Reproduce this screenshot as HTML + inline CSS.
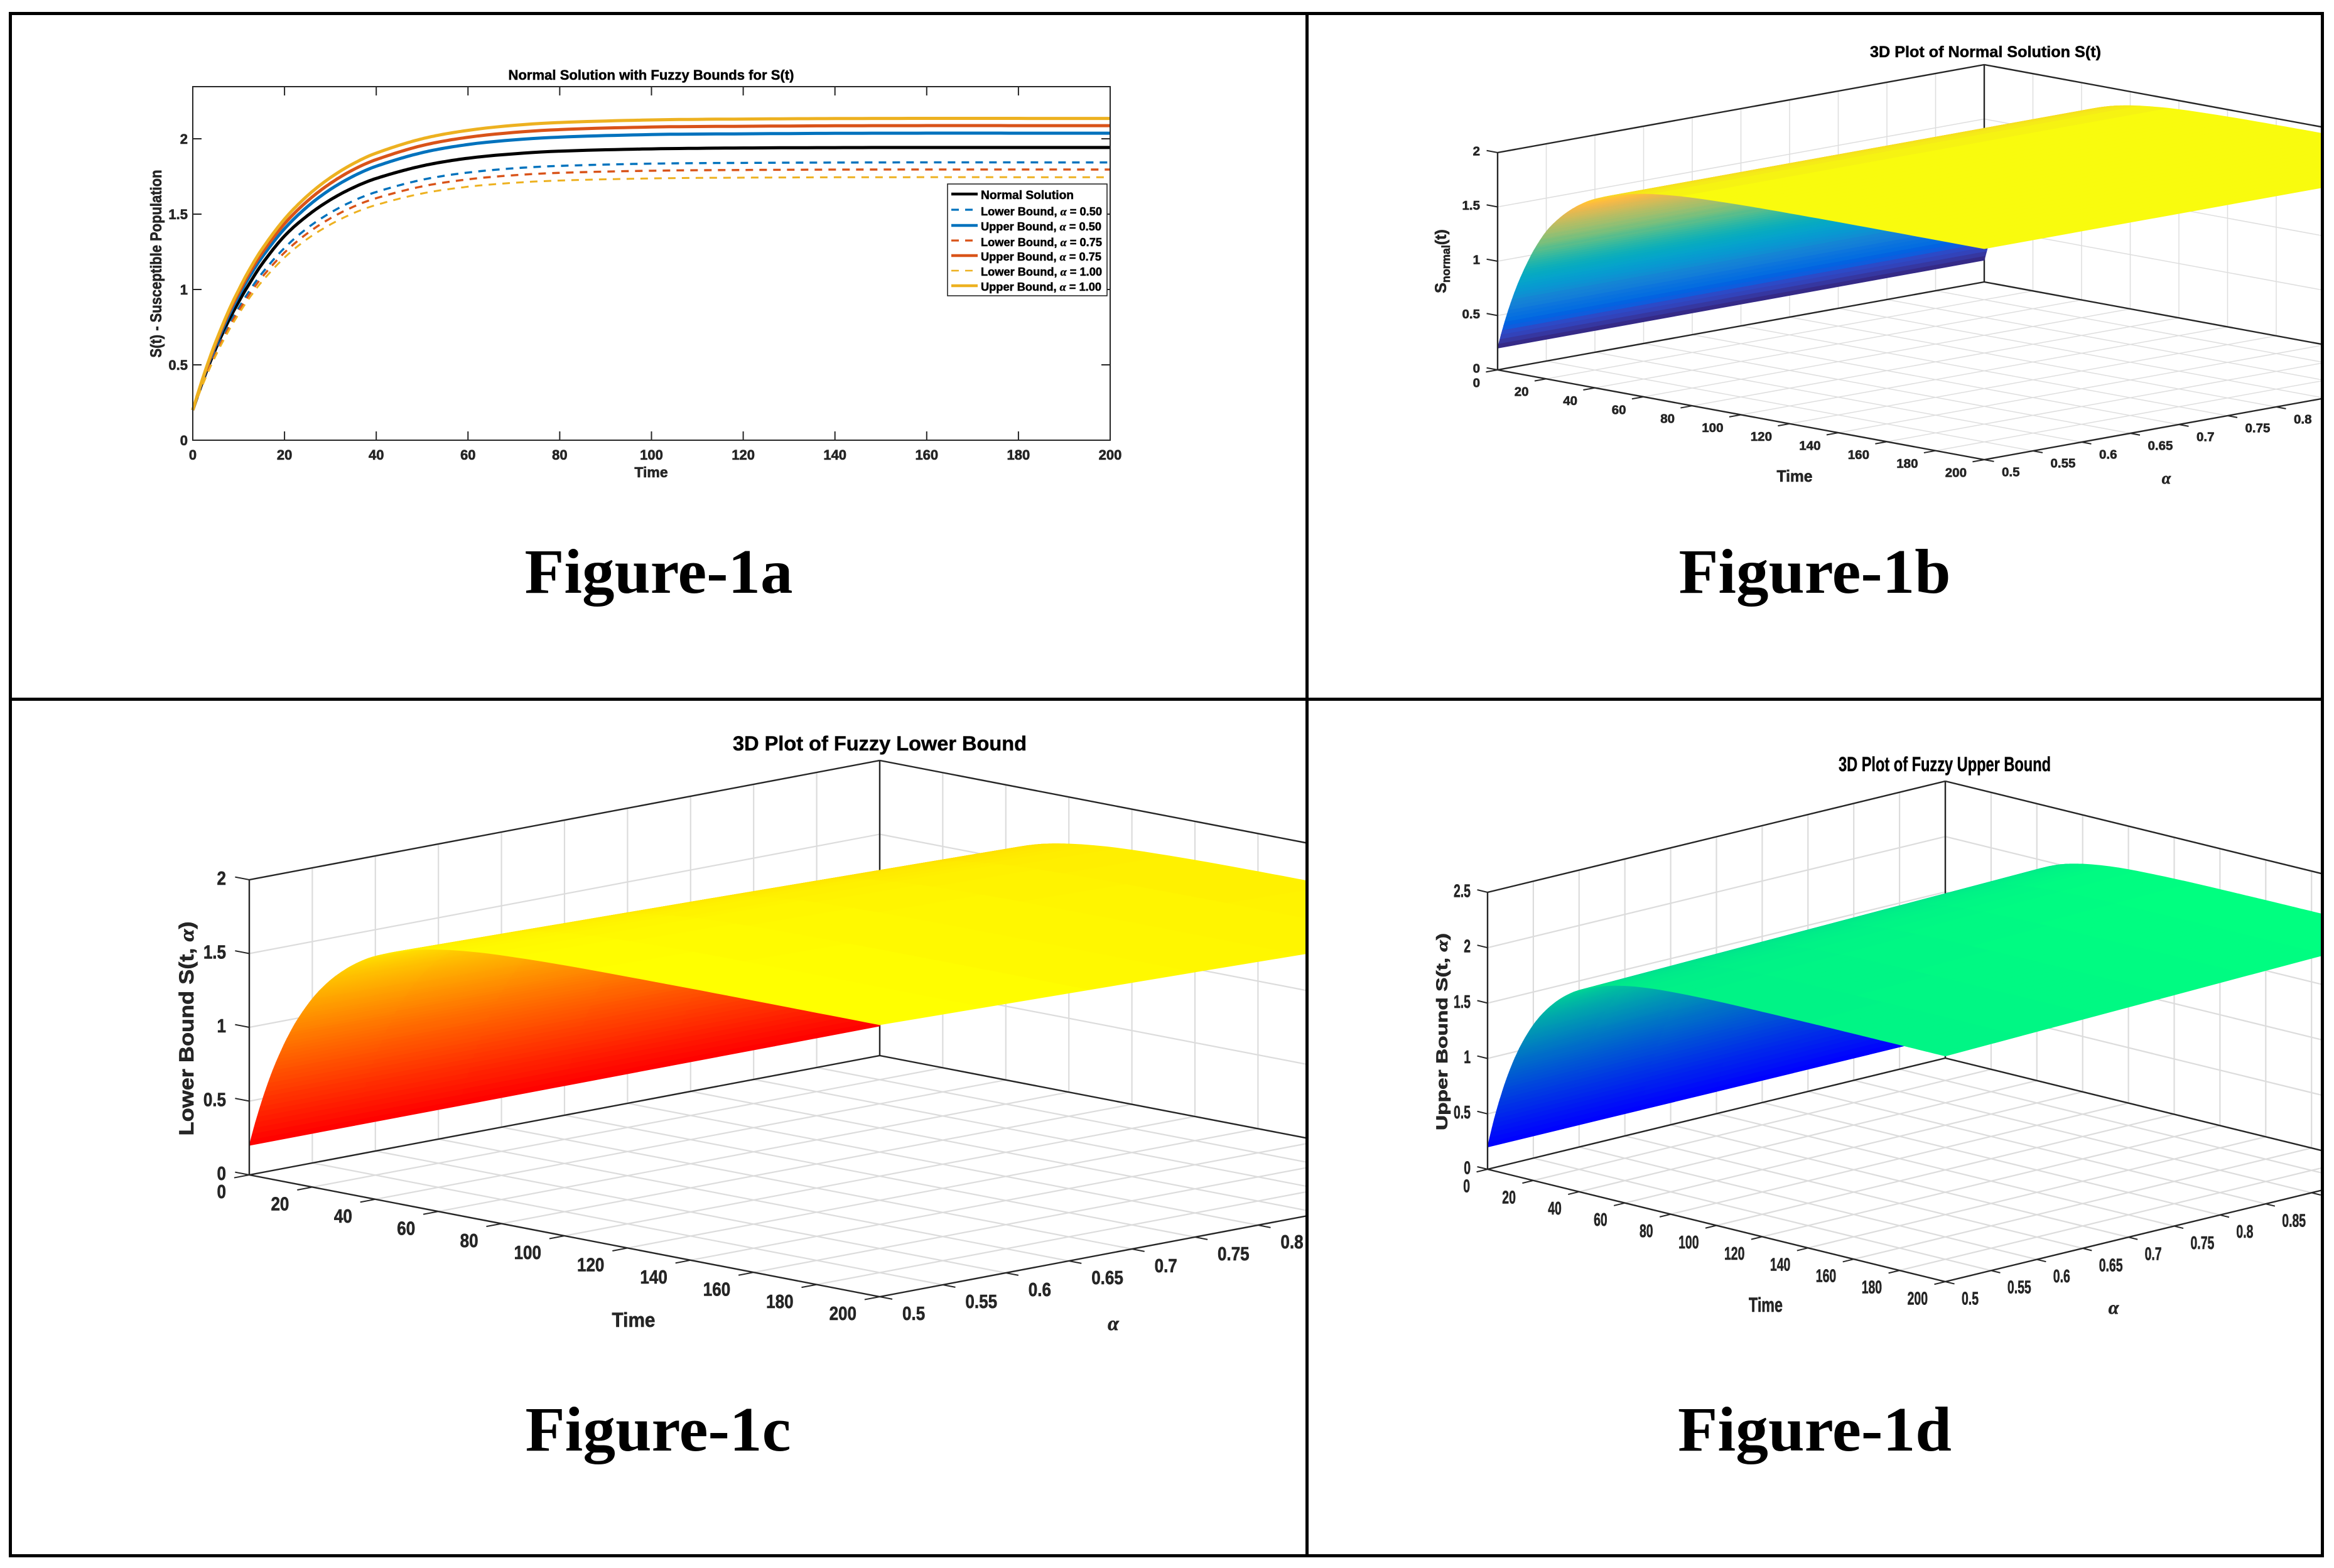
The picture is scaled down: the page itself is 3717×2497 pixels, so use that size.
<!DOCTYPE html>
<html lang="en">
<head>
<meta charset="utf-8">
<title>Figure 1: Normal Solution with Fuzzy Bounds</title>
<style>
html,body{margin:0;padding:0;background:#fff;}
body{width:3717px;height:2497px;overflow:hidden;}
svg{display:block;position:absolute;left:0;top:0;}
text{font-family:"Liberation Sans",sans-serif;font-weight:bold;stroke:#1a1a1a;stroke-width:0.6px;}
.greek{font-family:"Liberation Serif",serif;font-style:italic;}
.cap{font-family:"Liberation Serif",serif;font-weight:bold;fill:#000;stroke:none;}
</style>
</head>
<body>
<svg id="root" xmlns="http://www.w3.org/2000/svg" width="3717" height="2497" viewBox="0 0 3717 2497">
  <defs>
    <clipPath id="clip-b"><rect x="2084" y="24" width="1612" height="1087"/></clipPath>
    <clipPath id="clip-c"><rect x="19" y="1116" width="2060" height="1359"/></clipPath>
    <clipPath id="clip-d"><rect x="2084" y="1116" width="1612" height="1359"/></clipPath>
  </defs>
  <rect x="0" y="0" width="3717" height="2497" fill="#fff"/>

  <g id="panel-a">
    <g id="a-ticks"></g>
    <g id="a-lines"></g>
    <rect x="307" y="138" width="1461" height="563" fill="none" stroke="#262626" stroke-width="2"/>
    <text x="1037" y="127" font-size="22" text-anchor="middle" textLength="455" lengthAdjust="spacingAndGlyphs" fill="#000">Normal Solution with Fuzzy Bounds for S(t)</text>
    <text x="1037" y="760" font-size="23" text-anchor="middle" fill="#262626">Time</text>
    <text transform="translate(257,420) rotate(-90)" font-size="25" text-anchor="middle" textLength="299" lengthAdjust="spacingAndGlyphs" fill="#262626">S(t) - Susceptible Population</text>
    <g>
      <rect x="1509" y="293" width="254" height="178" fill="#fff" stroke="#262626" stroke-width="1.6"/>
      <line x1="1515" x2="1557" y1="309" y2="309" stroke="#000" stroke-width="4.5"/>
      <line x1="1515" x2="1557" y1="334" y2="334" stroke="#0072BD" stroke-width="3.2" stroke-dasharray="12 10"/>
      <line x1="1515" x2="1557" y1="359" y2="359" stroke="#0072BD" stroke-width="4.5"/>
      <line x1="1515" x2="1557" y1="383" y2="383" stroke="#D95319" stroke-width="3.2" stroke-dasharray="12 10"/>
      <line x1="1515" x2="1557" y1="407" y2="407" stroke="#D95319" stroke-width="4.5"/>
      <line x1="1515" x2="1557" y1="431" y2="431" stroke="#EDB120" stroke-width="2.6" stroke-dasharray="12 10"/>
      <line x1="1515" x2="1557" y1="455" y2="455" stroke="#EDB120" stroke-width="4.5"/>
      <text x="1562" y="317" font-size="19" textLength="148" lengthAdjust="spacingAndGlyphs" fill="#000">Normal Solution</text>
      <text x="1562" y="343" font-size="18" textLength="193" lengthAdjust="spacingAndGlyphs" fill="#000">Lower Bound, <tspan class="greek">α</tspan> = 0.50</text>
      <text x="1562" y="367" font-size="18" textLength="192" lengthAdjust="spacingAndGlyphs" fill="#000">Upper Bound, <tspan class="greek">α</tspan> = 0.50</text>
      <text x="1562" y="392" font-size="18" textLength="193" lengthAdjust="spacingAndGlyphs" fill="#000">Lower Bound, <tspan class="greek">α</tspan> = 0.75</text>
      <text x="1562" y="415" font-size="18" textLength="192" lengthAdjust="spacingAndGlyphs" fill="#000">Upper Bound, <tspan class="greek">α</tspan> = 0.75</text>
      <text x="1562" y="439" font-size="18" textLength="193" lengthAdjust="spacingAndGlyphs" fill="#000">Lower Bound, <tspan class="greek">α</tspan> = 1.00</text>
      <text x="1562" y="463" font-size="18" textLength="192" lengthAdjust="spacingAndGlyphs" fill="#000">Upper Bound, <tspan class="greek">α</tspan> = 1.00</text>
    </g>
    <text class="cap" x="1049" y="944" font-size="101" text-anchor="middle" textLength="427" lengthAdjust="spacingAndGlyphs">Figure-1a</text>
  </g>

  <g id="panel-b" clip-path="url(#clip-b)">
    <g id="b-plot"></g>
    <text x="3162" y="91" font-size="25" text-anchor="middle" textLength="368" lengthAdjust="spacingAndGlyphs" fill="#000">3D Plot of Normal Solution S(t)</text>
    <text x="2858" y="767" font-size="26" text-anchor="middle" textLength="57" lengthAdjust="spacingAndGlyphs" fill="#262626">Time</text>
    <text class="greek" x="3450" y="770" font-size="26" text-anchor="middle" fill="#262626">α</text>
    <text transform="translate(2303,416) rotate(-90)" font-size="25" text-anchor="middle" fill="#262626">S<tspan font-size="18" dy="6">normal</tspan><tspan dy="-6">(t)</tspan></text>
    <text class="cap" x="2890" y="944" font-size="101" text-anchor="middle" textLength="433" lengthAdjust="spacingAndGlyphs">Figure-1b</text>
  </g>

  <g id="panel-c" clip-path="url(#clip-c)">
    <g id="c-plot"></g>
    <text x="1401" y="1195" font-size="32" text-anchor="middle" textLength="468" lengthAdjust="spacingAndGlyphs" fill="#000">3D Plot of Fuzzy Lower Bound</text>
    <text x="1009" y="2113" font-size="32" text-anchor="middle" textLength="69" lengthAdjust="spacingAndGlyphs" fill="#262626">Time</text>
    <text class="greek" x="1773" y="2118" font-size="32" text-anchor="middle" fill="#262626">α</text>
    <text transform="translate(308,1638) rotate(-90)" font-size="32" text-anchor="middle" textLength="341" lengthAdjust="spacingAndGlyphs" fill="#262626">Lower Bound S(t, <tspan class="greek">α</tspan>)</text>
    <text class="cap" x="1048" y="2310" font-size="101" text-anchor="middle" textLength="423" lengthAdjust="spacingAndGlyphs">Figure-1c</text>
  </g>

  <g id="panel-d" clip-path="url(#clip-d)">
    <g id="d-plot"></g>
    <text x="3097" y="1228" font-size="32" text-anchor="middle" textLength="338" lengthAdjust="spacingAndGlyphs" fill="#000">3D Plot of Fuzzy Upper Bound</text>
    <text x="2812" y="2089" font-size="32" text-anchor="middle" textLength="54" lengthAdjust="spacingAndGlyphs" fill="#262626">Time</text>
    <text class="greek" x="3366" y="2092" font-size="30" text-anchor="middle" fill="#262626">α</text>
    <text transform="translate(2305,1643) rotate(-90)" font-size="25" text-anchor="middle" textLength="314" lengthAdjust="spacingAndGlyphs" fill="#262626">Upper Bound S(t, <tspan class="greek">α</tspan>)</text>
    <text class="cap" x="2890" y="2310" font-size="101" text-anchor="middle" textLength="436" lengthAdjust="spacingAndGlyphs">Figure-1d</text>
  </g>

  <g fill="#000">
    <rect x="14" y="19" width="3687" height="5"/>
    <rect x="14" y="2475" width="3687" height="5"/>
    <rect x="14" y="19" width="5" height="2461"/>
    <rect x="3696" y="19" width="5" height="2461"/>
    <rect x="2079" y="19" width="5" height="2461"/>
    <rect x="14" y="1111" width="3687" height="5"/>
  </g>
</svg>

<script>
// ---- values ----
const times      = [0, 2, 4, 6, 8, 10, 12, 15, 20, 25, 30, 35, 40, 50, 60, 70, 80, 100, 120, 150, 200];
const normalSol  = [0.2, 0.376, 0.534, 0.676, 0.804, 0.918, 1.022, 1.165, 1.355, 1.490, 1.595, 1.676, 1.737, 1.820, 1.871, 1.900, 1.918, 1.933, 1.939, 1.942, 1.942];
const lower050   = [0.2, 0.366, 0.515, 0.649, 0.770, 0.877, 0.975, 1.104, 1.276, 1.408, 1.509, 1.588, 1.647, 1.728, 1.776, 1.804, 1.820, 1.835, 1.840, 1.843, 1.843];
const upper050   = [0.2, 0.386, 0.553, 0.701, 0.837, 0.957, 1.067, 1.210, 1.403, 1.550, 1.664, 1.752, 1.818, 1.908, 1.962, 1.993, 2.011, 2.028, 2.033, 2.037, 2.037];
const lower075   = [0.2, 0.361, 0.506, 0.636, 0.754, 0.858, 0.953, 1.078, 1.245, 1.373, 1.472, 1.549, 1.606, 1.684, 1.731, 1.758, 1.774, 1.788, 1.793, 1.796, 1.796];
const upper075   = [0.2, 0.391, 0.562, 0.715, 0.855, 0.977, 1.091, 1.238, 1.436, 1.587, 1.704, 1.795, 1.862, 1.955, 2.010, 2.042, 2.061, 2.078, 2.083, 2.087, 2.087];
const lower100   = [0.2, 0.356, 0.497, 0.622, 0.736, 0.837, 0.929, 1.050, 1.212, 1.336, 1.431, 1.506, 1.561, 1.637, 1.682, 1.708, 1.723, 1.737, 1.742, 1.745, 1.745];
const upper100   = [0.2, 0.395, 0.572, 0.728, 0.871, 0.997, 1.113, 1.264, 1.467, 1.622, 1.742, 1.835, 1.905, 2.000, 2.056, 2.089, 2.108, 2.125, 2.131, 2.135, 2.135];
const alphaLevels = [0.5, 0.75, 1];

const timeTicks  = [0, 20, 40, 60, 80, 100, 120, 140, 160, 180, 200];
const timeLabels = ['0', '20', '40', '60', '80', '100', '120', '140', '160', '180', '200'];
const alphaTicks  = [0.5, 0.55, 0.6, 0.65, 0.7, 0.75, 0.8, 0.85, 0.9, 0.95, 1];
const alphaLabels = ['0.5', '0.55', '0.6', '0.65', '0.7', '0.75', '0.8', '0.85', '0.9', '0.95', '1'];
const valueTicks  = [0, 0.5, 1, 1.5, 2];
const valueLabels = ['0', '0.5', '1', '1.5', '2'];
const upperZTicks  = [0, 0.5, 1, 1.5, 2, 2.5];
const upperZLabels = ['0', '0.5', '1', '1.5', '2', '2.5'];

const parulaMap = [
[.2081,.1663,.5292],[.2116,.1898,.5777],[.2123,.2138,.6270],[.2081,.2386,.6771],[.1959,.2645,.7279],[.1707,.2919,.7792],[.1253,.3242,.8303],[.0591,.3598,.8683],
[.0117,.3875,.8820],[.0060,.4086,.8828],[.0165,.4266,.8786],[.0329,.4430,.8720],[.0498,.4586,.8641],[.0629,.4737,.8554],[.0723,.4887,.8467],[.0779,.5040,.8384],
[.0793,.5200,.8312],[.0749,.5375,.8263],[.0641,.5570,.8240],[.0488,.5772,.8228],[.0343,.5966,.8199],[.0265,.6137,.8135],[.0239,.6287,.8038],[.0231,.6418,.7913],
[.0228,.6535,.7768],[.0267,.6642,.7607],[.0384,.6743,.7436],[.0590,.6838,.7254],[.0843,.6928,.7062],[.1133,.7015,.6859],[.1453,.7098,.6646],[.1801,.7177,.6424],
[.2178,.7250,.6193],[.2586,.7317,.5954],[.3022,.7376,.5712],[.3482,.7424,.5473],[.3953,.7459,.5244],[.4420,.7481,.5033],[.4871,.7491,.4840],[.5300,.7491,.4661],
[.5709,.7485,.4494],[.6099,.7473,.4337],[.6473,.7456,.4188],[.6834,.7435,.4044],[.7184,.7411,.3905],[.7525,.7384,.3768],[.7858,.7356,.3633],[.8185,.7327,.3498],
[.8507,.7299,.3360],[.8824,.7274,.3217],[.9139,.7258,.3063],[.9450,.7261,.2886],[.9739,.7314,.2666],[.9938,.7455,.2403],[.9990,.7653,.2164],[.9955,.7861,.1967],
[.9880,.8066,.1794],[.9789,.8271,.1633],[.9697,.8481,.1475],[.9626,.8705,.1309],[.9589,.8949,.1132],[.9598,.9218,.0948],[.9661,.9514,.0755],[.9763,.9831,.0538]];

// ---- helpers ----
const NS = 'http://www.w3.org/2000/svg';
function node(tag, parent, attrs) {
  const el = document.createElementNS(NS, tag);
  for (const k in attrs) el.setAttribute(k, attrs[k]);
  parent.appendChild(el);
  return el;
}
function interpAt(series, t) {
  let i = 0;
  while (i < times.length - 2 && t > times[i + 1]) i++;
  const t0 = times[i], t1 = times[i + 1], h = t1 - t0;
  const slope = j => {
    const a = Math.max(j - 1, 0), b = Math.min(j + 1, times.length - 1);
    return (series[b] - series[a]) / (times[b] - times[a]);
  };
  const u = (t - t0) / h, u2 = u * u, u3 = u2 * u;
  return (2 * u3 - 3 * u2 + 1) * series[i] + (u3 - 2 * u2 + u) * h * slope(i) +
         (-2 * u3 + 3 * u2) * series[i + 1] + (u3 - u2) * h * slope(i + 1);
}
function label(parent, x, y, str, size, sx, anchor, name) {
  const el = node('text', parent, {transform: 'translate(' + x + ',' + y + ') scale(' + sx + ',1)', 'font-size': size, 'text-anchor': anchor, fill: '#262626'});
  
  
  el.textContent = str;
  return el;
}
function segment(parent, x1, y1, x2, y2, color, width, name) {
  const el = node('line', parent, {x1: x1, y1: y1, x2: x2, y2: y2, stroke: color, 'stroke-width': width});
  
  
  return el;
}

// ---- panel a: 2D lines ----
const xA = t => 307 + t / 200 * 1461;
const yA = v => 701 - v * 240;
const aAxes = document.getElementById('a-ticks');
timeTicks.forEach((t, i) => {
  segment(aAxes, xA(t), 701, xA(t), 687, '#262626', 2, 'x-tick-bottom');
  segment(aAxes, xA(t), 138, xA(t), 152, '#262626', 2, 'x-tick-top');
  label(aAxes, xA(t), 732, timeLabels[i], 22, 1, 'middle', 'x-tick-label');
});
valueTicks.forEach((v, i) => {
  segment(aAxes, 307, yA(v), 321, yA(v), '#262626', 2, 'y-tick-left');
  segment(aAxes, 1768, yA(v), 1754, yA(v), '#262626', 2, 'y-tick-right');
  label(aAxes, 299, yA(v) + 8, valueLabels[i], 22, 1, 'end', 'y-tick-label');
});
const lineSeries = [
  {values: normalSol, color: '#000000', width: 5, dash: null, name: 'line-normal-solution'},
  {values: lower050, color: '#0072BD', width: 3.4, dash: '12 10', name: 'line-lower-bound-050'},
  {values: upper050, color: '#0072BD', width: 5, dash: null, name: 'line-upper-bound-050'},
  {values: lower075, color: '#D95319', width: 3.4, dash: '12 10', name: 'line-lower-bound-075'},
  {values: upper075, color: '#D95319', width: 5, dash: null, name: 'line-upper-bound-075'},
  {values: lower100, color: '#EDB120', width: 3, dash: '12 10', name: 'line-lower-bound-100'},
  {values: upper100, color: '#EDB120', width: 5, dash: null, name: 'line-upper-bound-100'}
];
const aLines = document.getElementById('a-lines');
lineSeries.forEach(s => {
  let d = '';
  for (let t = 0; t <= 200; t += (t < 60 ? 0.5 : 2)) {
    d += (d ? 'L' : 'M') + xA(t).toFixed(1) + ' ' + yA(interpAt(s.values, t)).toFixed(1);
  }
  const p = node('path', aLines, {d: d, fill: 'none', stroke: s.color, 'stroke-width': s.width});
  if (s.dash) p.setAttribute('stroke-dasharray', s.dash);
  
  
});

// ---- colormaps ----
function parula(n) {
  const c = parulaMap[Math.min(63, Math.round(n * 63))];
  return 'rgb(' + c.map(v => Math.round(v * 255)).join(',') + ')';
}
const autumn = n => 'rgb(255,' + Math.round(255 * n) + ',0)';
const winter = n => 'rgb(0,' + Math.round(255 * n) + ',' + Math.round(255 * (1 - n / 2)) + ')';

function zNormal(t) { return interpAt(normalSol, t); }
function zLevels(arrs, t, a) {
  const i = a <= alphaLevels[1] ? 0 : 1;
  const u = (a - alphaLevels[i]) / (alphaLevels[i + 1] - alphaLevels[i]);
  return interpAt(arrs[i], t) * (1 - u) + interpAt(arrs[i + 1], t) * u;
}
const zLower = (t, a) => zLevels([lower050, lower075, lower100], t, a);
const zUpper = (t, a) => zLevels([upper050, upper075, upper100], t, a);

// ---- 3D panels ----
function drawSurface3D(cfg) {
  const g = document.getElementById(cfg.id);
  const P = (t, a, z) => [
    cfg.L[0] + (cfg.B[0] - cfg.L[0]) * t / 200 + (cfg.K[0] - cfg.L[0]) * (a - 0.5) / 0.5,
    cfg.L[1] + (cfg.B[1] - cfg.L[1]) * t / 200 + (cfg.K[1] - cfg.L[1]) * (a - 0.5) / 0.5 - z * cfg.unit
  ];
  const zMax = cfg.zTicks[cfg.zTicks.length - 1];
  const seg3 = (p, q, color, w, name) => segment(g, p[0], p[1], q[0], q[1], color, w, name);

  // gridlines
  const gc = cfg.gridColor, gw = cfg.gridWidth;
  timeTicks.forEach(t => {
    seg3(P(t, 0.5, 0), P(t, 1, 0), gc, gw, 'floor-grid-time');
    seg3(P(t, 1, 0), P(t, 1, zMax), gc, gw, 'wall-grid-time');
  });
  alphaTicks.forEach(a => {
    seg3(P(0, a, 0), P(200, a, 0), gc, gw, 'floor-grid-alpha');
    seg3(P(0, a, 0), P(0, a, zMax), gc, gw, 'wall-grid-alpha');
  });
  cfg.zTicks.forEach(z => {
    seg3(P(0, 0.5, z), P(0, 1, z), gc, gw, 'wall-grid-z');
    seg3(P(0, 1, z), P(200, 1, z), gc, gw, 'wall-grid-z');
  });

  // back box lines
  const bc = '#262626', bw = 2.4;
  seg3(P(0, 0.5, 0), P(0, 1, 0), bc, bw, 'box-floor-edge');
  seg3(P(0, 1, 0), P(200, 1, 0), bc, bw, 'box-floor-edge');
  seg3(P(0, 1, 0), P(0, 1, zMax), bc, bw, 'box-back-vertical');
  seg3(P(0, 0.5, zMax), P(0, 1, zMax), bc, bw, 'box-top-edge');
  seg3(P(0, 1, zMax), P(200, 1, zMax), bc, bw, 'box-top-edge');

  // surface, painted from far (t=0) to near (t=200)
  const surf = node('g', g, {});
  
  
  const aStep = 0.5 / cfg.alphaSegs;
  let t0 = 0;
  while (t0 < 200) {
    const t1 = t0 + (t0 < 60 ? 0.5 : 4);
    for (let j = 0; j < cfg.alphaSegs; j++) {
      const a0 = 0.5 + j * aStep, a1 = a0 + aStep;
      const z00 = cfg.z(t0, a0), z01 = cfg.z(t0, a1), z10 = cfg.z(t1, a0), z11 = cfg.z(t1, a1);
      const zm = (z00 + z01 + z10 + z11) / 4;
      let n = (zm - 0.2) / (cfg.zTop - 0.2);
      n = Math.max(0, Math.min(1, Math.floor(n * cfg.levels) / (cfg.levels - 1)));
      const col = cfg.cmap(n);
      const pts = [P(t0, a0, z00), P(t0, a1, z01), P(t1, a1, z11), P(t1, a0, z10)]
        .map(p => p[0].toFixed(1) + ',' + p[1].toFixed(1)).join(' ');
      const q = node('polygon', surf, {points: pts, fill: col, stroke: col, 'stroke-width': 0.9});
      
      
    }
    t0 = t1;
  }

  // front box lines and ticks
  seg3(P(0, 0.5, 0), P(200, 0.5, 0), bc, bw, 'time-axis-line');
  seg3(P(200, 0.5, 0), P(200, 1, 0), bc, bw, 'alpha-axis-line');
  seg3(P(0, 0.5, 0), P(0, 0.5, zMax), bc, bw, 'z-axis-line');

  timeTicks.forEach((t, i) => {
    seg3(P(t, 0.5, 0), P(t, 0.488, 0), bc, 2, 'time-tick');
    const e = P(t, 0.5, 0);
    label(g, e[0] + cfg.tOff[0], e[1] + cfg.tOff[1] + cfg.fs * 0.36, timeLabels[i], cfg.fs, cfg.sx, 'end', 'time-tick-label');
  });
  alphaTicks.forEach((a, i) => {
    seg3(P(200, a, 0), P(204, a, 0), bc, 2, 'alpha-tick');
    const e = P(200, a, 0);
    label(g, e[0] + cfg.aOff[0], e[1] + cfg.aOff[1] + cfg.fs * 0.36, alphaLabels[i], cfg.fs, cfg.sx, 'start', 'alpha-tick-label');
  });
  cfg.zTicks.forEach((z, i) => {
    seg3(P(0, 0.5, z), P(-4.5, 0.5, z), bc, 2, 'z-tick');
    const e = P(0, 0.5, z);
    label(g, cfg.zRight, e[1] - 3 + cfg.fs * 0.36, cfg.zLabels[i], cfg.fs, cfg.sx, 'end', 'z-tick-label');
  });
}

drawSurface3D({id: 'b-plot', L: [2385, 589], B: [3160, 732], K: [3160, 449], unit: 173,
  zTicks: valueTicks, zLabels: valueLabels, z: (t, a) => zNormal(t), zTop: 1.942, cmap: parula, levels: 64, alphaSegs: 1,
  tOff: [-28, 20], aOff: [28, 19], zRight: 2357, fs: 20.5, sx: 1, gridColor: '#dedede', gridWidth: 1.5});
drawSurface3D({id: 'c-plot', L: [397, 1871], B: [1401, 2065], K: [1401, 1681], unit: 235,
  zTicks: valueTicks, zLabels: valueLabels, z: zLower, zTop: 1.843, cmap: autumn, levels: 128, alphaSegs: 6,
  tOff: [-37, 26], aOff: [36, 26], zRight: 360, fs: 31, sx: 0.84, gridColor: '#dcdcdc', gridWidth: 2.2});
drawSurface3D({id: 'd-plot', L: [2369, 1862], B: [3098, 2041], K: [3098, 1685], unit: 176.4,
  zTicks: upperZTicks, zLabels: upperZLabels, z: zUpper, zTop: 2.135, cmap: winter, levels: 128, alphaSegs: 6,
  tOff: [-28, 26], aOff: [26, 26], zRight: 2342, fs: 29, sx: 0.67, gridColor: '#dcdcdc', gridWidth: 2.2});
</script>
</body>
</html>
